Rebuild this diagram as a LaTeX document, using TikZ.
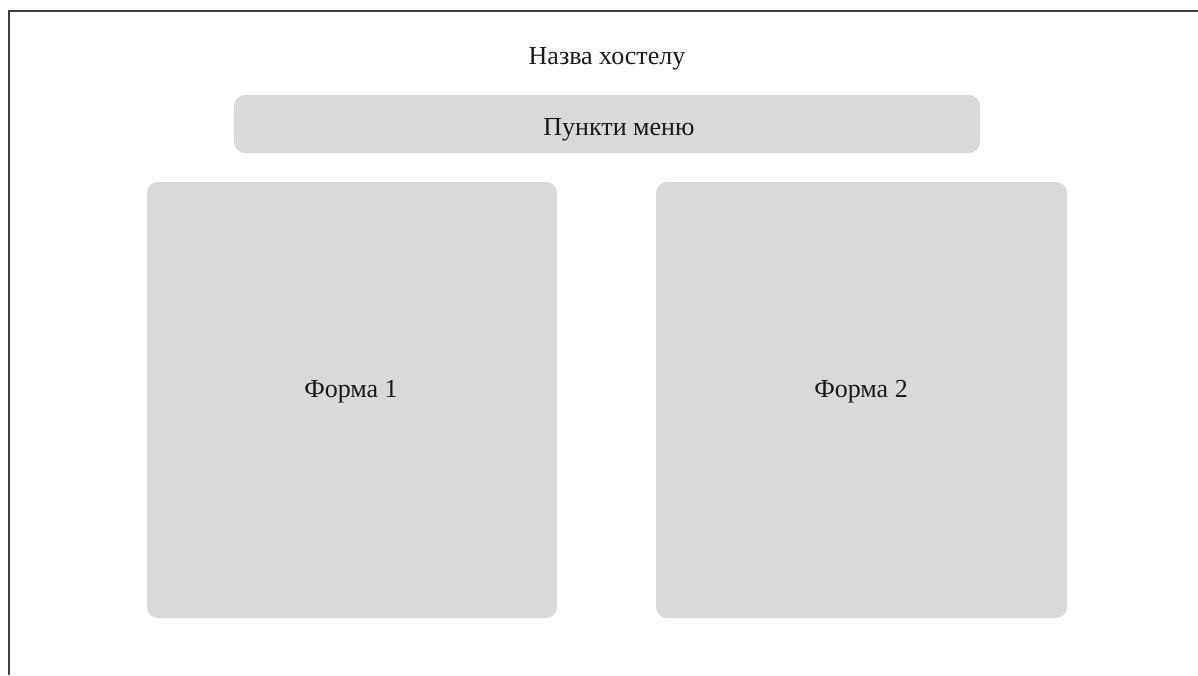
\documentclass[tikz,border=0pt]{standalone}
\usepackage{fontspec}
\setmainfont{Liberation Serif}
\usetikzlibrary{positioning}

\begin{document}
\begin{tikzpicture}[x=1pt,y=-1pt]
   \tikzstyle{every node}=[text=black!90,font=\fontsize{26}{30}\selectfont]
   \tikzstyle{panel}=[fill=black!15,rounded corners=11pt,inner sep=0pt]
   \useasboundingbox (0,0) rectangle (1198,675) ;

   % frame
   \coordinate (tl) at (9,11) ;
   \draw [line width=2pt,black!75] (1198,11) -- (tl) -- (9,675) ;

   \node (title) at (607,59) {Назва хостелу} ;
   \node (menu) [panel,minimum width=746pt,minimum height=58pt] at (607,124) {} ;
   \node at (619,130) {Пункти меню} ;

   \node (form1) [panel,minimum width=410pt,minimum height=436pt] at (352,400) {} ;
   \node (form2) [panel,minimum width=411pt,minimum height=436pt] at (861.5,400) {} ;
   \node at (351,392) {Форма 1} ;
   \node at (861,392) {Форма 2} ;

\end{tikzpicture}
\end{document}
